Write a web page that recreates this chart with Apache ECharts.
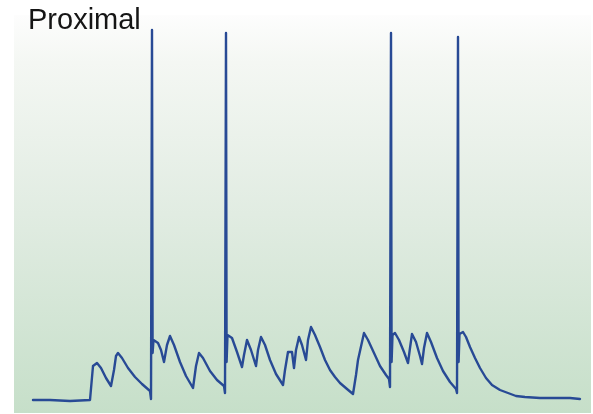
<!DOCTYPE html>
<html>
<head>
<meta charset="utf-8">
<style>html,body{margin:0;padding:0;background:#fff;}#c{width:593px;height:414px;}</style>
<script src="https://cdn.jsdelivr.net/npm/echarts@6/dist/echarts.min.js"></script>
</head>
<body>
<div id="c"></div>
<script>
// Recording trace: time (arbitrary units) and membrane level (arbitrary units)
const timeUnits = [33,50,70,90,91,93,95,97,101,106,111,112,114,116,118,122,128,135,142,150,
  151,152,152.6,153.5,155,158,161,164,165,167,170,174,180,186,193,194,196,199,203,210,217,224,
  225,226,226.6,227.5,232,237,242,244,247,251,256,258,261,265,270,276,283,285,288,292,294,296,299,302,306,308,311,315,320,325,330,335,340,347,353,356,358,360,362,364,368,374,380,386,389,
  390,391,391.6,392.5,395,399,404,408,410,412,416,420,422,424,427,431,437,443,450,456,
  457,458,458.6,459.5,461,463,466,470,475,480,486,492,500,508,516,525,540,555,570,580];
const level = [14,14,13,14,15,48,50,51,46,36,28,27,44,58,61,56,46,37,30,23,
  15,384,61,74,74,71,64,52,52,69,78,69,52,38,26,26,48,61,56,43,34,28,
  21,381,52,79,76,62,47,59,74,64,48,64,77,69,54,40,29,44,62,62,46,64,77,69,54,74,87,79,67,54,44,37,31,25,20,39,54,56,72,81,74,61,48,39,35,
  27,381,52,79,81,74,62,51,66,80,72,58,50,66,81,72,56,43,32,25,
  21,377,52,80,81,82,77,67,56,46,36,29,24,21,18,17,16,16,16,15];
const title = "Proximal";

const data = timeUnits.map((t, i) => [t, level[i]]);
const chart = echarts.init(document.getElementById('c'), null, {renderer: 'canvas'});
chart.setOption({
  animation: false,
  grid: {
    left: 14, right: 2, top: 15, bottom: 1, show: true, borderWidth: 0,
    backgroundColor: new echarts.graphic.LinearGradient(0, 0, 0, 1, [
      {offset: 0, color: '#fdfdfd'},
      {offset: 0.12, color: '#f4f7f3'},
      {offset: 0.5, color: '#e1ece2'},
      {offset: 1, color: '#c6dfc9'}
    ])
  },
  xAxis: {type: 'value', min: 14, max: 591, show: false},
  yAxis: {type: 'value', min: 1, max: 399, show: false},
  graphic: [{
    type: 'text', left: 28, top: 6, z: 10,
    style: {text: title, font: '29px "Liberation Sans", Arial, sans-serif', fill: '#151515'}
  }],
  series: [{
    type: 'line', data: data, showSymbol: false, smooth: false,
    lineStyle: {color: '#284a95', width: 2.4, join: 'round', cap: 'round'}, z: 5
  }]
});
</script>
</body>
</html>
